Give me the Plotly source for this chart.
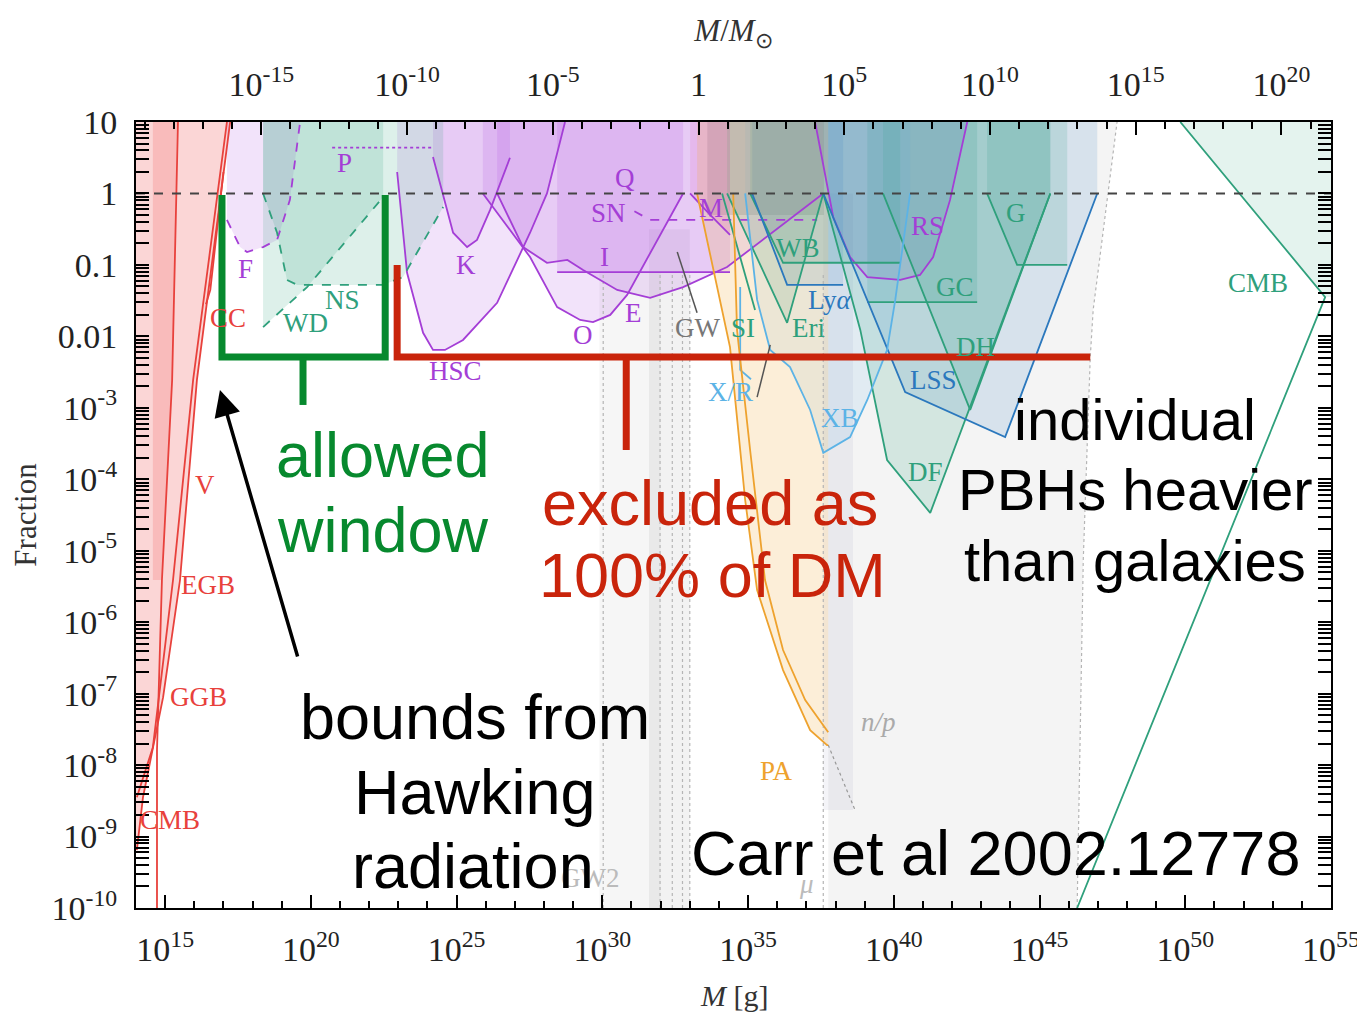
import plotly.graph_objects as go

# log10 of the solar mass in grams, used for the top axis
LOG_MSUN = 33.3

PURPLE = '#a43ed6'
RED = '#e8413c'
GREEN = '#2fa07c'
BLUE = '#2b78bd'
LBLUE = '#5cb3e6'
ORANGE = '#eea22e'
WIN_GREEN = '#07892e'
EXC_RED = '#c9240b'

# ---------------------------------------------------------------------------
# constraint curves: log10 M [g] and log10 f
# ---------------------------------------------------------------------------
# evaporation / Hawking radiation (red)
evap_fill_m = [14.0, 17.23, 16.09, 15.51, 14.93, 14.24, 14.03, 14.0]
evap_fill_f = [1.0, 1.0, -2.61, -5.41, -7.05, -8.45, -9.19, -9.19]
evap_band_m = [14.58, 15.41, 15.24, 14.89, 14.58]
evap_band_f = [1.0, 1.0, -2.61, -5.41, -5.41]
evap_r1_m = [15.44, 15.24, 14.89, 14.72, 14.72]
evap_r1_f = [1.0, -2.61, -5.41, -7.79, -10.0]
evap_r2_m = [17.23, 16.09, 15.51, 14.93, 14.24, 14.03]
evap_r2_f = [1.0, -2.61, -5.41, -7.05, -8.45, -9.19]
evap_r3_m = [17.12, 15.96, 15.27, 14.58, 14.03]
evap_r3_f = [1.0, -2.61, -5.41, -7.75, -8.45]
cc_m = [17.0, 16.75, 16.55, 16.4]
cc_f = [0.3, -0.6, -1.35, -1.55]

# lensing and friends (purple)
femto_m = [17.12, 17.57, 17.81, 18.36, 18.84, 19.28, 19.63]
femto_f = [-0.37, -0.75, -0.82, -0.75, -0.65, -0.09, 1.0]
p_m = [20.73, 24.19]
p_f = [0.64, 0.64]
hsc_m = [22.96, 23.3, 23.85, 24.19, 24.6, 25.22, 26.39, 27.52, 28.1, 28.72]
hsc_f = [0.3, -1.11, -1.95, -2.19, -2.19, -2.05, -1.53, -0.55, 0.0, 1.0]
kep_m = [24.19, 24.88, 25.36, 25.7, 26.15, 26.83]
kep_f = [0.51, -0.55, -0.75, -0.65, -0.23, 0.5]
eros_m = [26.39, 27.28, 28.1, 28.8, 29.34, 30.51, 31.64, 32.77, 34.28, 37.58]
eros_f = [0.0, -0.75, -0.97, -0.93, -1.07, -1.35, -1.46, -1.31, -1.03, 0.0]
ogle_m = [25.9, 27.52, 28.45, 29.24, 29.68, 30.27, 30.85, 32.77]
ogle_f = [0.0, -0.89, -1.59, -1.77, -1.8, -1.7, -1.42, 0.0]
icarus_m = [28.45, 34.38]
icarus_f = [-1.1, -1.1]
sn_m = [31.1, 31.64, 37.37]
sn_f = [-0.25, -0.37, -0.37]
m_m = [33.01, 33.7, 34.38]
m_f = [0.0, -0.3, -0.58]
rs_m = [37.3, 37.92, 38.5, 39.09, 40.22, 40.9, 41.35, 41.93, 42.52]
rs_f = [1.0, -0.33, -0.89, -1.17, -1.21, -1.14, -0.89, -0.09, 1.0]

# neutron stars / white dwarfs and dynamical bounds (green)
wd_m = [18.36, 19.87, 22.48]
wd_f = [-1.87, -1.31, -0.05]
ns_m = [18.36, 18.84, 19.18, 19.53, 22.48, 23.16, 24.54]
ns_f = [0.0, -0.55, -1.21, -1.28, -1.28, -1.17, -0.19]
wb_m = [35.07, 36.2, 40.22]
wb_f = [0.0, -0.97, -0.97]
eri_m = [34.28, 36.34, 37.58]
eri_f = [0.0, -1.81, 0.0]
si_m = [34.11, 35.24]
si_f = [0.0, -1.63]
gc_m = [39.09, 42.86]
gc_f = [-1.52, -1.52]
dh_m = [39.63, 42.62, 45.37]
dh_f = [0.0, -3.03, 0.0]
df_m = [37.58, 38.85, 39.77, 41.25, 45.37]
df_f = [0.0, -1.91, -3.73, -4.47, 0.0]
g_m = [43.2, 44.23, 45.95]
g_f = [0.0, -1.0, -1.0]
cmb_line_m = [49.83, 54.8, 46.29]
cmb_line_f = [1.0, -1.45, -10.0]
cmb_fill_m = [49.83, 55.0, 55.0, 54.8]
cmb_fill_f = [1.0, 1.0, -1.45, -1.45]

# large-scale structure, Lyman alpha, X-ray (blue)
lya_m = [35.14, 36.34, 38.26]
lya_f = [0.0, -1.28, -1.28]
lss_m = [37.58, 40.39, 43.82, 46.98]
lss_f = [0.0, -2.78, -3.41, 0.0]
xb_m = [34.9, 35.31, 35.76, 36.44, 37.13, 37.58, 38.5, 39.09, 39.77, 40.05, 40.56]
xb_f = [0.0, -1.49, -2.19, -2.43, -3.03, -3.63, -3.41, -2.89, -2.19, -1.49, 0.0]
xr_m = [34.73, 34.73, 35.1]
xr_f = [-1.31, -2.47, -2.6]

# accretion (orange)
pa1_m = [33.25, 34.38, 34.9, 35.31, 36.2, 37.13, 37.71, 37.75]
pa1_f = [0.0, -2.15, -4.29, -5.55, -6.67, -7.51, -7.72, -7.72]
pa2_m = [34.49, 34.62, 35.07, 35.58, 36.2, 36.96, 37.75]
pa2_f = [0.0, -1.91, -3.59, -5.41, -6.39, -7.09, -7.54]

# gravitational waves and other grey bands
gw_m = [32.57, 33.25]
gw_f = [-0.82, -1.67]
gw_b_m = [35.76, 35.31]
gw_b_f = [-2.12, -2.85]
np_edge_m = [46.29, 46.5, 46.74, 46.84, 47.66]
np_edge_f = [-10.0, -5.13, -2.29, -1.63, 1.0]
np_diag_m = [37.75, 38.67]
np_diag_f = [-7.72, -8.63]
mu_band_m = [37.58, 38.6]
mu_band_f = [-8.63, -8.63]
dotted_m = [30.03, 31.98, 32.4, 32.75, 33.0, 37.58]

# annotation brackets
window_m = [16.95, 16.95, 22.55, 22.55]
window_f = [-0.02, -2.29, -2.29, -0.02]
window_stem_m = [19.73, 19.73]
window_stem_f = [-2.29, -2.96]
excl_m = [22.96, 22.96, 46.74]
excl_f = [-1.0, -2.29, -2.29]
excl_stem_m = [30.82, 30.82]
excl_stem_f = [-2.29, -3.59]

# axis ticks
xtick_exp = [15, 20, 25, 30, 35, 40, 45, 50, 55]
x2tick_exp = [-15, -10, -5, 0, 5, 10, 15, 20]
ytick_exp = list(range(-10, 2))
ytick_text = ['10<sup>%d</sup>' % e for e in range(-10, -2)] + ['0.01', '0.1', '1', '10']

# constraint labels: text, log10 M, log10 f, colour
labels = [
    ('P', 21.17, 0.43, PURPLE), ('F', 17.77, -1.06, PURPLE), ('CC', 17.16, -1.74, RED),
    ('NS', 21.1, -1.49, GREEN), ('WD', 19.8, -1.81, GREEN), ('K', 25.32, -1.0, PURPLE),
    ('HSC', 24.95, -2.48, PURPLE), ('O', 29.34, -1.98, PURPLE), ('E', 31.06, -1.67, PURPLE),
    ('I', 30.09, -0.89, PURPLE), ('SN', 30.2, -0.27, PURPLE), ('Q', 30.78, 0.22, PURPLE),
    ('M', 33.73, -0.2, PURPLE), ('GW', 33.25, -1.88, '#777777'), ('SI', 34.83, -1.88, GREEN),
    ('Eri', 37.06, -1.88, GREEN), ('WB', 36.72, -0.76, GREEN), ('Ly<i>α</i>', 37.82, -1.49, BLUE),
    ('RS', 41.14, -0.46, PURPLE), ('G', 44.2, -0.27, GREEN), ('GC', 42.11, -1.31, GREEN),
    ('DH', 42.79, -2.15, GREEN), ('LSS', 41.35, -2.61, BLUE), ('XB', 38.16, -3.14, LBLUE),
    ('X/R', 34.38, -2.78, LBLUE), ('DF', 41.08, -3.9, GREEN), ('CMB', 52.5, -1.25, GREEN),
    ('V', 16.37, -4.08, RED), ('EGB', 16.47, -5.48, RED), ('GGB', 16.13, -7.05, RED),
    ('CMB', 15.17, -8.77, RED), ('PA', 35.96, -8.08, ORANGE), ('<i>n/p</i>', 39.46, -7.4, '#aaaaaa'),
    ('<i>μ</i>', 36.99, -9.66, '#bbbbbb'), ('GW2', 29.58, -9.58, '#bbbbbb'),
]

# big overlay text: text, log10 M, log10 f, colour, size
big_texts = [
    ('allowed', 22.48, -3.66, WIN_GREEN, 63), ('window', 22.48, -4.71, WIN_GREEN, 63),
    ('excluded as', 33.7, -4.33, EXC_RED, 63), ('100% of DM', 33.77, -5.34, EXC_RED, 63),
    ('bounds from', 25.63, -7.33, 'black', 63), ('Hawking', 25.63, -8.38, 'black', 63),
    ('radiation', 25.56, -9.41, 'black', 63),
    ('individual', 48.28, -3.17, 'black', 58), ('PBHs heavier', 48.28, -4.15, 'black', 58),
    ('than galaxies', 48.28, -5.13, 'black', 58),
    ('Carr et al 2002.12778', 43.48, -9.23, 'black', 63),
]


def lin(v):
    return [10.0 ** x for x in v]


def add_region(fig, m, f, fillcolor, top=1.0, close=True):
    """Filled region from the curve up to log f = top."""
    xs = list(m) + ([m[-1], m[0]] if close else [])
    ys = list(f) + ([top, top] if close else [])
    fig.add_trace(go.Scatter(
        x=lin(xs), y=lin(ys), mode='lines', line=dict(width=0),
        fill='toself', fillcolor=fillcolor, hoverinfo='skip'))


def add_curve(fig, m, f, color, width=1.8, dash='solid'):
    fig.add_trace(go.Scatter(
        x=lin(m), y=lin(f), mode='lines',
        line=dict(color=color, width=width, dash=dash), hoverinfo='skip'))


fig = go.Figure()

# ---- grey background bands
add_region(fig, [29.9, 32.0], [-10, -10], 'rgba(0,0,0,0.035)', top=-1.1)
add_region(fig, [31.6, 33.0], [-10, -10], 'rgba(0,0,0,0.05)', top=-0.5)
add_region(fig, [37.75] + np_edge_m, [-10.0] + np_edge_f, 'rgba(0,0,0,0.045)')
add_region(fig, mu_band_m, mu_band_f, 'rgba(110,120,160,0.08)', top=0.0)
add_region(fig, [33.6, 37.6], [-0.3, -0.3], 'rgba(90,100,100,0.22)')

# ---- filled constraint regions
add_region(fig, evap_fill_m, evap_fill_f, 'rgba(240,90,90,0.25)', close=False)
add_region(fig, evap_band_m, evap_band_f, 'rgba(240,90,90,0.22)', close=False)

purple_fill = 'rgba(170,70,220,0.15)'
green_fill = 'rgba(45,160,125,0.16)'
blue_fill = 'rgba(45,120,190,0.14)'

add_region(fig, femto_m, femto_f, purple_fill)
add_region(fig, hsc_m, hsc_f, purple_fill)
add_region(fig, kep_m, kep_f, purple_fill)
add_region(fig, eros_m, eros_f, purple_fill)
add_region(fig, ogle_m, ogle_f, purple_fill)
add_region(fig, icarus_m, icarus_f, purple_fill)
add_region(fig, m_m, m_f, 'rgba(220,80,190,0.15)')
add_region(fig, rs_m, rs_f, purple_fill)

add_region(fig, wd_m, wd_f, green_fill)
add_region(fig, ns_m, ns_f, green_fill)
add_region(fig, wb_m, wb_f, green_fill)
add_region(fig, eri_m, eri_f, green_fill)
add_region(fig, gc_m, gc_f, green_fill)
add_region(fig, dh_m, dh_f, green_fill)
add_region(fig, df_m, df_f, green_fill)
add_region(fig, g_m, g_f, green_fill)
add_region(fig, cmb_fill_m, cmb_fill_f, 'rgba(45,160,125,0.13)', close=False)

add_region(fig, lya_m, lya_f, blue_fill)
add_region(fig, lss_m, lss_f, blue_fill)
add_region(fig, xb_m, xb_f, 'rgba(90,175,230,0.12)')

add_region(fig, pa1_m + [37.75], pa1_f + [1.0], 'rgba(240,170,60,0.2)', top=1.0)

# ---- grey dotted lines
for xm in dotted_m:
    add_curve(fig, [xm, xm], [-10, -1.1], '#b5b5b5', width=1.2, dash='dot')
add_curve(fig, np_edge_m, np_edge_f, '#b5b5b5', width=1.2, dash='dot')
add_curve(fig, np_diag_m, np_diag_f, '#999999', width=1.2, dash='dot')

# ---- constraint curves
for cm, cf in [(evap_r1_m, evap_r1_f), (evap_r2_m, evap_r2_f),
               (evap_r3_m, evap_r3_f), (cc_m, cc_f)]:
    add_curve(fig, cm, cf, RED)

add_curve(fig, femto_m, femto_f, PURPLE, dash='dash')
add_curve(fig, p_m, p_f, PURPLE, dash='dot')
for cm, cf in [(hsc_m, hsc_f), (kep_m, kep_f), (eros_m, eros_f), (ogle_m, ogle_f),
               (icarus_m, icarus_f), (m_m, m_f), (rs_m, rs_f)]:
    add_curve(fig, cm, cf, PURPLE)
add_curve(fig, sn_m, sn_f, PURPLE, dash='dash')

add_curve(fig, wd_m, wd_f, GREEN, dash='dash')
add_curve(fig, ns_m, ns_f, GREEN, dash='dash')
for cm, cf in [(wb_m, wb_f), (eri_m, eri_f), (si_m, si_f), (gc_m, gc_f),
               (dh_m, dh_f), (df_m, df_f), (g_m, g_f), (cmb_line_m, cmb_line_f)]:
    add_curve(fig, cm, cf, GREEN)

add_curve(fig, lya_m, lya_f, BLUE)
add_curve(fig, lss_m, lss_f, BLUE)
add_curve(fig, xb_m, xb_f, LBLUE)
add_curve(fig, xr_m, xr_f, LBLUE)

add_curve(fig, pa1_m, pa1_f, ORANGE)
add_curve(fig, pa2_m, pa2_f, ORANGE)

add_curve(fig, gw_m, gw_f, '#555555', width=1.5)
add_curve(fig, gw_b_m, gw_b_f, '#555555', width=1.5)

# f = 1 line
add_curve(fig, [14, 55], [0, 0], '#444444', width=2, dash='dash')

# ---- brackets
add_curve(fig, window_m, window_f, WIN_GREEN, width=7)
add_curve(fig, window_stem_m, window_stem_f, WIN_GREEN, width=7)
add_curve(fig, excl_m, excl_f, EXC_RED, width=7)
add_curve(fig, excl_stem_m, excl_stem_f, EXC_RED, width=7)

# dummy trace so the top axis is drawn
fig.add_trace(go.Scatter(x=[1.0], y=[1.0], xaxis='x2', mode='markers',
                         marker=dict(opacity=0), hoverinfo='skip'))

# ---- labels
for text, lm, lf, color in labels:
    fig.add_annotation(x=lm, y=lf, xref='x', yref='y', text=text, showarrow=False,
                       font=dict(family='Liberation Serif', size=27, color=color))

for text, lm, lf, color, size in big_texts:
    fig.add_annotation(x=lm, y=lf, xref='x', yref='y', text=text, showarrow=False,
                       font=dict(family='Liberation Sans', size=size, color=color))

# arrow pointing at the Hawking radiation bounds
fig.add_annotation(x=16.88, y=-2.75, ax=19.56, ay=-6.5, xref='x', yref='y',
                   axref='x', ayref='y', text='', showarrow=True, arrowhead=2,
                   arrowsize=1.5, arrowwidth=3.5, arrowcolor='black')

tick_font = dict(family='Liberation Serif', size=34, color='#222222')
title_font = dict(family='Liberation Serif', size=31, color='#333333')

# bottom axis title, placed by hand
fig.add_annotation(x=0.5, y=-0.111, xref='paper', yref='paper', text='<i>M</i> [g]',
                   showarrow=False, yanchor='middle',
                   font=dict(family='Liberation Serif', size=30, color='#333333'))

fig.update_layout(
    width=1357, height=1005,
    margin=dict(l=128, r=34, t=114, b=105),
    paper_bgcolor='white', plot_bgcolor='white',
    showlegend=False,
    xaxis=dict(
        type='log', range=[14, 55], automargin=False,
        tickvals=lin(xtick_exp), ticktext=['10<sup>%d</sup>' % e for e in xtick_exp],
        ticks='inside', ticklen=13, tickwidth=2, tickcolor='black',
        minor=dict(tickvals=lin(range(14, 56)), ticks='inside', ticklen=7,
                   tickwidth=1.5, tickcolor='black'),
        showline=True, linewidth=2, linecolor='black', showgrid=False, zeroline=False,
        tickfont=tick_font, ticklabelstandoff=10, ticklabeloverflow='allow',
    ),
    xaxis2=dict(
        type='log', overlaying='x', side='top', automargin=False,
        range=[14 - LOG_MSUN, 55 - LOG_MSUN],
        tickvals=lin(x2tick_exp),
        ticktext=['1' if e == 0 else '10<sup>%d</sup>' % e for e in x2tick_exp],
        ticks='inside', ticklen=13, tickwidth=2, tickcolor='black',
        minor=dict(tickvals=lin(range(-19, 22)), ticks='inside', ticklen=7,
                   tickwidth=1.5, tickcolor='black'),
        showline=True, linewidth=2, linecolor='black', showgrid=False, zeroline=False,
        tickfont=tick_font, ticklabelstandoff=10,
        title=dict(text='<i>M</i>/<i>M</i><sub>⊙</sub>', font=title_font, standoff=10),
    ),
    yaxis=dict(
        type='log', range=[-10, 1], automargin=False,
        tickvals=lin(ytick_exp), ticktext=ytick_text,
        ticks='inside', ticklen=13, tickwidth=2, tickcolor='black',
        minor=dict(tickvals=[k * 10.0 ** e for e in range(-10, 1) for k in range(2, 10)],
                   ticks='inside', ticklen=7, tickwidth=1.5, tickcolor='black'),
        showline=True, linewidth=2, linecolor='black', mirror='allticks',
        showgrid=False, zeroline=False,
        tickfont=tick_font, ticklabelstandoff=10,
        title=dict(text='Fraction', font=title_font, standoff=6),
    ),
)

fig.write_html("out.html")
